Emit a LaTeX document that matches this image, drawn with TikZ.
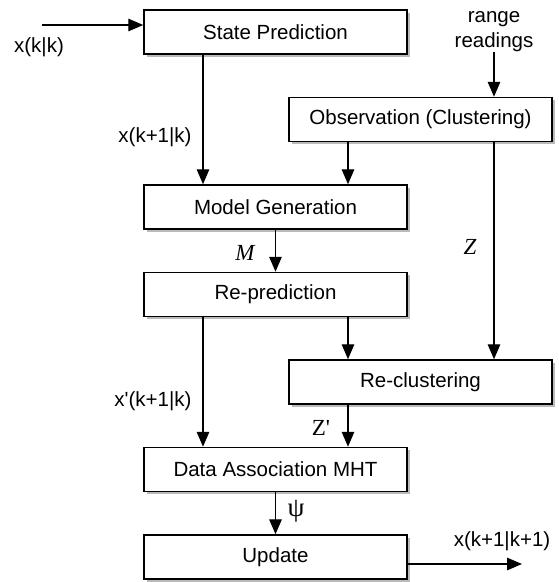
\documentclass[tikz,border=0pt]{standalone}
\usepackage{fontspec}
\setmainfont{Liberation Sans}
\newfontfamily\tms{Liberation Serif}
\usetikzlibrary{arrows.meta,shadows}
\begin{document}
\begin{tikzpicture}[x=1pt,y=-1pt,
  font=\fontsize{20.5}{25}\selectfont,
  box/.style={draw=black,line width=1.5pt,fill=white,minimum width=263pt,minimum height=44pt,inner sep=0pt,
    drop shadow={shadow xshift=2.5pt,shadow yshift=-2.5pt,fill=black!45,opacity=0.6}},
  conn/.style={line width=1.4pt,-{Triangle[length=15pt,width=12.5pt]}},
  lab/.style={inner sep=0pt,align=center},
  sym/.style={inner sep=0pt,font=\fontsize{23}{27}\selectfont\tms}]
\useasboundingbox (0,0) rectangle (558,582);
\node[box] (sp) at (275.5,32) {State Prediction};
\node[box] (obs) at (420.5,119.5) {Observation (Clustering)};
\node[box] (mg) at (275.5,207) {Model Generation};
\node[box] (rp) at (275.5,294.5) {Re-prediction};
\node[box] (rc) at (420.5,382) {Re-clustering};
\node[box] (da) at (275.5,469.5) {Data Association MHT};
\node[box] (up) at (275.5,557) {Update};
\coordinate (in) at (42,25);
\coordinate (out) at (522,564);
\coordinate (cL) at (203,0);
\coordinate (cR) at (348,0);
\coordinate (cZ) at (494,0);
\node[lab] (rr) at (494,32) {range\\readings};
\draw[conn] (in) -- (in -| sp.west);
\draw[conn] (rr.south -| cZ) -- (obs.north -| cZ);
\draw[conn] (sp.south -| cL) -- (mg.north -| cL);
\draw[conn] (obs.south -| cR) -- (mg.north -| cR);
\draw[conn] (obs.south -| cZ) -- (rc.north -| cZ);
\draw[conn] (mg.south) -- (rp.north);
\draw[conn] (rp.south -| cL) -- (da.north -| cL);
\draw[conn] (rp.south -| cR) -- (rc.north -| cR);
\draw[conn] (rc.south -| cR) -- (da.north -| cR);
\draw[conn] (da.south) -- (up.north);
\draw[conn] (up.east |- out) -- (out);
\node[lab] (lxkk) at (39,47) {x(k|k)};
\node[lab] (lx1) at (155,137) {x(k+1|k)};
\node[lab] (lx2) at (153,401) {x\textquotesingle(k+1|k)};
\node[lab] (lx3) at (502,541) {x(k+1|k+1)};
\node[sym] (lM) at (245,253) {\itshape M};
\node[sym] (lZ) at (470,247) {\itshape Z};
\node[sym] (lZp) at (321,428) {Z\textquotesingle};
\node[sym,font=\fontsize{27}{30}\selectfont\tms] (lpsi) at (296,511) {ψ};
\end{tikzpicture}
\end{document}
